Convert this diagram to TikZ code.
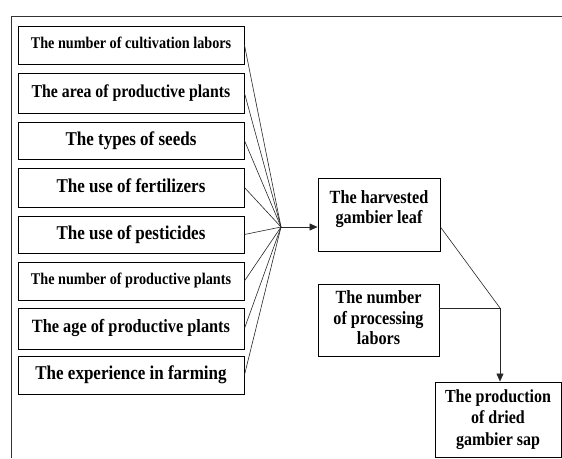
\documentclass[tikz,border=0pt]{standalone}
\usepackage{fontspec}
\setmainfont{Liberation Serif}
\usetikzlibrary{arrows.meta}
% tall bold lettering: a centred stack of lines, stretched vertically
\newcommand{\tallstack}[1]{\scalebox{1}[1.15]{\begin{tabular}[t]{@{}c@{}}#1\end{tabular}}}
\begin{document}
\begin{tikzpicture}[x=1pt,y=-1pt,
  box/.style={draw=black, line width=0.9pt, inner sep=0pt, align=center,
    font=\bfseries},
  factor/.style={box, minimum width=226pt},
  link/.style={draw=black!85, line width=0.6pt},
  flow/.style={link, -{Triangle[length=8pt,width=7pt]}},
  frame/.style={draw=black!80, line width=0.9pt}
]
\useasboundingbox (0,0) rectangle (562,458);

% outer frame (top and left sides)
\draw[frame] (11,458) -- (11,16) -- (562,16);

% input factors
\node[factor, minimum height=38pt, font=\bfseries\fontsize{14.2}{17}\selectfont] (b1) at (131,45) {\tallstack{The number of cultivation labors}};
\node[factor, minimum height=40pt, font=\bfseries\fontsize{15.8}{19}\selectfont] (b2) at (131,93) {\tallstack{The area of productive plants}};
\node[factor, minimum height=37pt, font=\bfseries\fontsize{17}{20}\selectfont] (b3) at (131,140.5) {\tallstack{The types of seeds}};
\node[factor, minimum height=39pt, font=\bfseries\fontsize{17}{20}\selectfont] (b4) at (131,187.5) {\tallstack{The use of fertilizers}};
\node[factor, minimum height=37pt, font=\bfseries\fontsize{17}{20}\selectfont] (b5) at (131,234.5) {\tallstack{The use of pesticides}};
\node[factor, minimum height=38pt, font=\bfseries\fontsize{14.2}{17}\selectfont] (b6) at (131,281) {\tallstack{The number of productive plants}};
\node[factor, minimum height=41pt, font=\bfseries\fontsize{16.3}{19}\selectfont] (b7) at (131,328.5) {\tallstack{The age of productive plants}};
\node[factor, minimum height=38pt, font=\bfseries\fontsize{17}{20}\selectfont] (b8) at (131,375) {\tallstack{The experience in farming}};

% intermediate and final outputs
\node[box, minimum width=122pt, minimum height=73pt] (leaf) at (379,214.5) {};
\node[anchor=base, inner sep=0pt, font=\bfseries\fontsize{16.2}{18}\selectfont] (leaftext) at (379,203) {\tallstack{The harvested\\gambier leaf}};
\node[box, minimum width=121pt, minimum height=72pt, font=\bfseries\fontsize{16.2}{18}\selectfont] (proc) at (378.5,320) {\tallstack{The number\\of processing\\labors}};
\node[box, minimum width=126pt, minimum height=75pt, font=\bfseries\fontsize{16}{18.7}\selectfont] (sap) at (498,419.5) {\tallstack{The production\\of dried\\gambier sap}};

% junction points
\coordinate (m) at (281,227);
\coordinate (c) at (500,308);

\foreach \i in {1,...,8} \draw[link] (b\i.east) -- (m);
\draw[flow] (m) -- (m -| leaf.west);
\draw[link] (m -| leaf.east) -- (c);
\draw[link] (c -| proc.east) -- (c);
\draw[flow] (c) -- (c |- sap.north);
\end{tikzpicture}
\end{document}
